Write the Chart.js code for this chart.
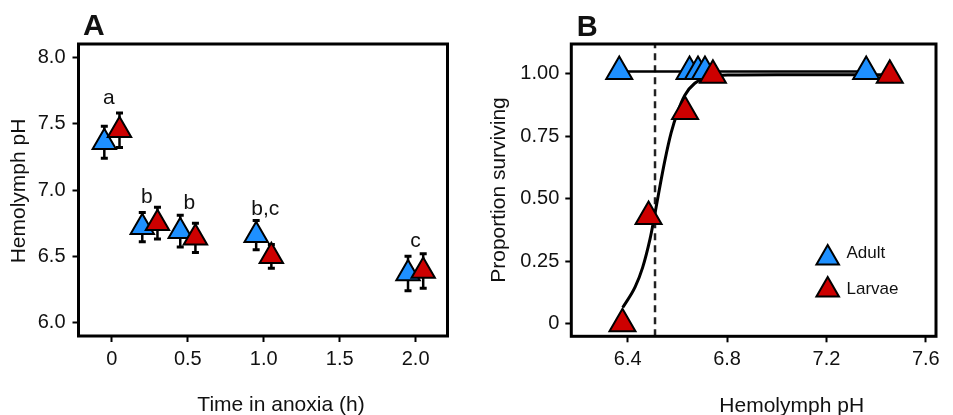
<!DOCTYPE html>
<html><head><meta charset="utf-8">
<script src="https://cdn.jsdelivr.net/npm/chart.js@4/dist/chart.umd.min.js"></script>
<style>
html,body{margin:0;padding:0;background:#fff;}
#wrap{position:relative;width:953px;height:415px;overflow:hidden;}
.pane{position:absolute;top:0;height:415px;}
</style></head><body>
<div id="wrap">
<div class="pane" style="left:0;width:480px"><canvas id="ca" width="480" height="415"></canvas></div>
<div class="pane" style="left:480px;width:473px"><canvas id="cb" width="473" height="415"></canvas></div>
</div>
<script>
// ---------- Panel A data ----------
const times = [0, 0.25, 0.5, 1, 2];
const adultPH = [7.36, 6.72, 6.69, 6.66, 6.37];
const adultSE = [0.12, 0.11, 0.12, 0.11, 0.13];
const larvaePH = [7.45, 6.75, 6.64, 6.50, 6.39];
const larvaeSE = [0.13, 0.12, 0.11, 0.09, 0.13];
const letters = ["a", "b", "b", "b,c", "c"];
const letterTime = [-0.02, 0.23, 0.51, 1.01, 2.0];
const letterPH = [7.65, 6.90, 6.86, 6.81, 6.57];
const timeTicks = [0, 0.5, 1, 1.5, 2];
const timeTickLabels = ["0", "0.5", "1.0", "1.5", "2.0"];
const phTicksA = [6, 6.5, 7, 7.5, 8];
const phTickLabelsA = ["6.0", "6.5", "7.0", "7.5", "8.0"];

// ---------- Panel B data ----------
const adultPH_B = [6.366, 6.649, 6.683, 6.711, 7.36];
const adultSurv = [1.01, 1.01, 1.01, 1.01, 1.01];
const larvaePH_B = [6.379, 6.484, 6.631, 6.743, 7.455];
const larvaeSurv = [0.0, 0.43, 0.85, 0.995, 0.995];
const fitPH = [6.38, 6.43, 6.46, 6.49, 6.505, 6.525, 6.55, 6.575, 6.60, 6.63, 6.67, 6.73, 6.81, 7.0, 7.455];
const fitSurv = [0.065, 0.148, 0.225, 0.34, 0.415, 0.525, 0.655, 0.765, 0.845, 0.915, 0.963, 0.989, 0.996, 0.997, 0.997];
const ld50 = 6.51;
const phTicksB = [6.4, 6.8, 7.2, 7.6];
const phTickLabelsB = ["6.4", "6.8", "7.2", "7.6"];
const survTicks = [0, 0.25, 0.5, 0.75, 1];
const survTickLabels = ["0", "0.25", "0.50", "0.75", "1.00"];

const seriesNames = ["Adult", "Larvae"];
const BLUE = "#1E90FF", RED = "#CD0000";
const FONT = "'Liberation Sans', Arial, Helvetica, sans-serif";
const TXT = "#111";

function axis(min, max, ticks, labels, pad, fit) {
  return {
    type: 'linear', min, max,
    afterBuildTicks: s => { s.ticks = ticks.map(v => ({ value: v })); },
    afterFit: fit,
    ticks: { autoSkip: false, maxRotation: 0, color: TXT, padding: pad,
      font: { family: FONT, size: 20 },
      callback: (v, i) => labels[i] },
    grid: { display: true, drawOnChartArea: false, drawTicks: true, tickLength: 6, tickWidth: 2, tickColor: '#000' },
    border: { display: false },
    title: { display: false }
  };
}

function boxPlugin(texts) {
  return {
    id: 'box',
    afterDraw(chart) {
      const { ctx, chartArea: a } = chart;
      ctx.save();
      ctx.strokeStyle = '#000'; ctx.lineWidth = 3;
      ctx.strokeRect(a.left, a.top, a.right - a.left, a.bottom - a.top);
      ctx.fillStyle = TXT;
      texts.forEach(t => {
        ctx.save();
        ctx.font = t.font;
        ctx.textAlign = t.align || 'center';
        ctx.textBaseline = t.base || 'alphabetic';
        ctx.translate(t.x, t.y);
        if (t.rot) ctx.rotate(t.rot);
        ctx.fillText(t.s, 0, 0);
        ctx.restore();
      });
      ctx.restore();
    }
  };
}

function tri(ctx, x, y, r, fill) {
  ctx.beginPath();
  for (let k = 0; k < 3; k++) {
    const a = k * 2 * Math.PI / 3;
    const px = x + Math.sin(a) * r, py = y - Math.cos(a) * r;
    if (k === 0) ctx.moveTo(px, py); else ctx.lineTo(px, py);
  }
  ctx.closePath();
  ctx.fillStyle = fill; ctx.fill();
  ctx.lineWidth = 2; ctx.strokeStyle = '#000'; ctx.stroke();
}

// ---------- Chart A ----------
const dodge = 0.05;
const errPlugin = {
  id: 'err',
  beforeDatasetsDraw(chart) {
    const { ctx, scales: { x, y } } = chart;
    ctx.save(); ctx.strokeStyle = '#000';
    [[adultPH, adultSE, -dodge], [larvaePH, larvaeSE, dodge]].forEach(([m, e, d]) => {
      times.forEach((t, i) => {
        const px = x.getPixelForValue(t + d);
        const top = y.getPixelForValue(m[i] + e[i]);
        const bot = y.getPixelForValue(m[i] - e[i]);
        ctx.lineWidth = 2.5;
        ctx.beginPath(); ctx.moveTo(px, top); ctx.lineTo(px, bot); ctx.stroke();
        ctx.lineWidth = 3;
        ctx.beginPath();
        ctx.moveTo(px - 3.5, top); ctx.lineTo(px + 3.5, top);
        ctx.moveTo(px - 3.5, bot); ctx.lineTo(px + 3.5, bot);
        ctx.stroke();
      });
    });
    ctx.restore();
  },
  afterDatasetsDraw(chart) {
    const { ctx, scales: { x, y } } = chart;
    ctx.save();
    ctx.fillStyle = TXT; ctx.font = '21px ' + FONT;
    ctx.textAlign = 'center'; ctx.textBaseline = 'alphabetic';
    letters.forEach((s, i) => ctx.fillText(s, x.getPixelForValue(letterTime[i]), y.getPixelForValue(letterPH[i])));
    ctx.restore();
  }
};

new Chart(document.getElementById('ca'), {
  type: 'scatter',
  data: {
    datasets: [
      { label: seriesNames[1], order: 0, data: times.map((t, i) => ({ x: t + dodge, y: larvaePH[i] })),
        pointStyle: 'triangle', pointRadius: 13.5, pointBackgroundColor: RED, pointBorderColor: '#000', pointBorderWidth: 2 },
      { label: seriesNames[0], order: 1, data: times.map((t, i) => ({ x: t - dodge, y: adultPH[i] })),
        pointStyle: 'triangle', pointRadius: 13.5, pointBackgroundColor: BLUE, pointBorderColor: '#000', pointBorderWidth: 2 }
    ]
  },
  options: {
    responsive: false, animation: false, devicePixelRatio: 1,
    layout: { padding: { left: 0, top: 44, right: 32.5, bottom: 0 } },
    plugins: { legend: { display: false }, tooltip: { enabled: false } },
    scales: {
      x: axis(-0.22, 2.21, timeTicks, timeTickLabels, 5, s => { s.height = 79; }),
      y: axis(5.9, 8.1, phTicksA, phTickLabelsA, 7, s => { s.width = 78.5; })
    }
  },
  plugins: [errPlugin, boxPlugin([
    { s: 'A', x: 83, y: 35, font: 'bold 30px ' + FONT, align: 'left' },
    { s: 'Time in anoxia (h)', x: 281, y: 410.5, font: '21px ' + FONT },
    { s: 'Hemolymph pH', x: 19.5, y: 191, font: '21px ' + FONT, base: 'middle', rot: -Math.PI / 2 }
  ])]
});

// ---------- Chart B ----------
const ldPlugin = {
  id: 'ld',
  beforeDatasetsDraw(chart) {
    const { ctx, chartArea: a, scales: { x } } = chart;
    const px = x.getPixelForValue(ld50);
    ctx.save();
    ctx.strokeStyle = '#222'; ctx.lineWidth = 2.5; ctx.setLineDash([7, 5]);
    ctx.beginPath(); ctx.moveTo(px, a.bottom); ctx.lineTo(px, a.top); ctx.stroke();
    ctx.restore();
  },
  afterDatasetsDraw(chart) {
    const { ctx } = chart;
    ctx.save();
    const cols = [BLUE, RED], ys = [258, 290], ty = [253.5, 289];
    seriesNames.forEach((n, i) => {
      tri(ctx, 347.7, ys[i], 13, cols[i]);
      ctx.fillStyle = TXT; ctx.font = '17px ' + FONT;
      ctx.textAlign = 'left'; ctx.textBaseline = 'middle';
      ctx.fillText(n, 366.5, ty[i]);
    });
    ctx.restore();
  }
};

new Chart(document.getElementById('cb'), {
  type: 'scatter',
  data: {
    datasets: [
      { label: seriesNames[1], order: 0, data: larvaePH_B.map((v, i) => ({ x: v, y: larvaeSurv[i] })),
        pointStyle: 'triangle', pointRadius: 15, pointBackgroundColor: RED, pointBorderColor: '#000', pointBorderWidth: 2 },
      { label: seriesNames[0], order: 1, data: adultPH_B.map((v, i) => ({ x: v, y: adultSurv[i] })),
        pointStyle: 'triangle', pointRadius: 15, pointBackgroundColor: BLUE, pointBorderColor: '#000', pointBorderWidth: 2 },
      { label: 'fitL', order: 2, data: fitPH.map((v, i) => ({ x: v, y: fitSurv[i] })),
        showLine: true, pointRadius: 0, borderColor: '#000', borderWidth: 3, cubicInterpolationMode: 'monotone' },
      { label: 'fitA', order: 3, data: adultPH_B.map((v, i) => ({ x: v, y: adultSurv[i] })),
        showLine: true, pointRadius: 0, borderColor: '#000', borderWidth: 2.5 }
    ]
  },
  options: {
    responsive: false, animation: false, devicePixelRatio: 1,
    layout: { padding: { left: 0, top: 44, right: 7.3, bottom: 0 } },
    plugins: { legend: { display: false }, tooltip: { enabled: false } },
    scales: {
      x: axis(6.173, 7.641, phTicksB, phTickLabelsB, 5, s => { s.height = 78.7; }),
      y: axis(-0.05, 1.12, survTicks, survTickLabels, 6, s => { s.width = 91.3; })
    }
  },
  plugins: [ldPlugin, boxPlugin([
    { s: 'B', x: 96.7, y: 36, font: 'bold 29px ' + FONT, align: 'left' },
    { s: 'Hemolymph pH', x: 311.7, y: 411.5, font: '21px ' + FONT },
    { s: 'Proportion surviving', x: 19, y: 190, font: '21px ' + FONT, base: 'middle', rot: -Math.PI / 2 }
  ])]
});
</script>
</body></html>
